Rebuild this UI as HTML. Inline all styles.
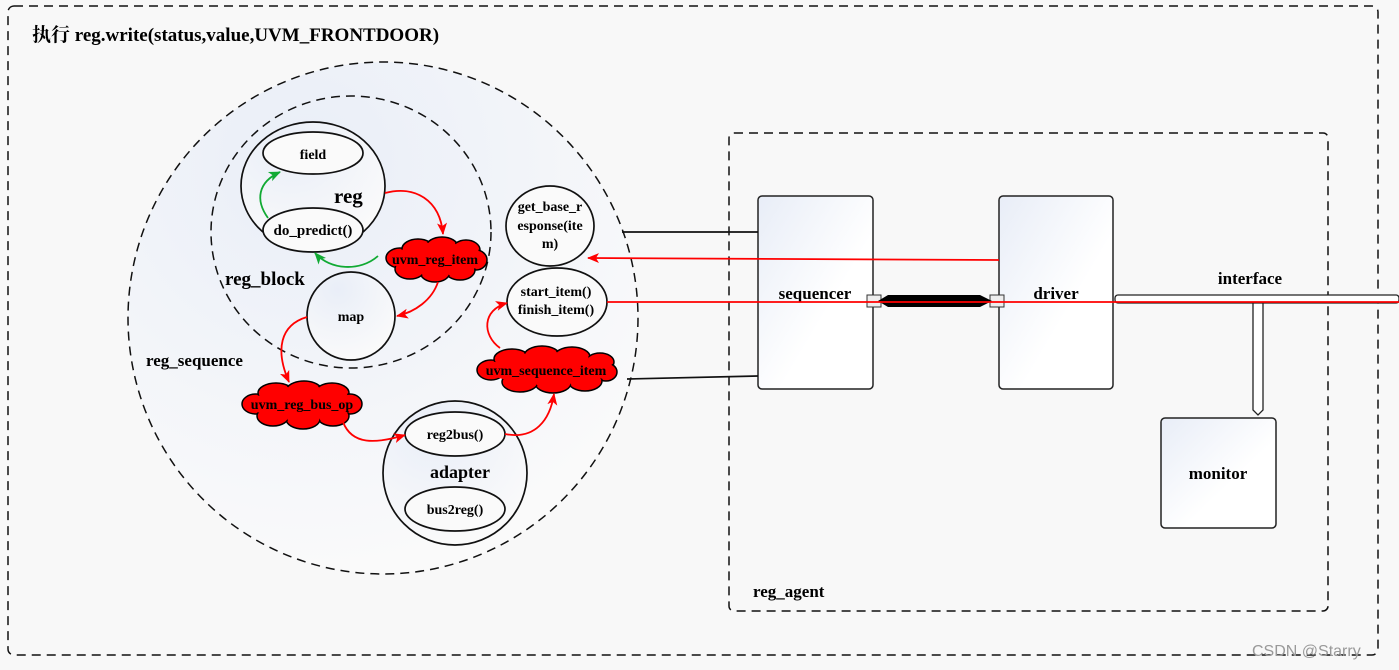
<!DOCTYPE html>
<html><head><meta charset="utf-8"><style>
html,body{margin:0;padding:0;background:#fff}
svg{display:block}
text{font-family:"Liberation Serif","Noto Serif CJK SC",serif;font-weight:bold;fill:#000}
</style></head><body>
<svg width="1399" height="670" viewBox="0 0 1399 670" xmlns="http://www.w3.org/2000/svg">
<defs>
<linearGradient id="g" x1="0" y1="0" x2="1" y2="1"><stop offset="0" stop-color="#e8edf7"/><stop offset="0.6" stop-color="#fff"/></linearGradient>
<radialGradient id="rg" cx="0.35" cy="0.2" r="0.8"><stop offset="0" stop-color="#e9eef8"/><stop offset="1" stop-color="#fafafa"/></radialGradient>
<marker id="ar" markerWidth="12" markerHeight="12" refX="11" refY="6" orient="auto" markerUnits="userSpaceOnUse"><path d="M0,1 L12,6 L0,11 L3,6z" fill="#f00"/></marker>
<marker id="ag" markerWidth="12" markerHeight="12" refX="11" refY="6" orient="auto" markerUnits="userSpaceOnUse"><path d="M0,1 L12,6 L0,11 L3,6z" fill="#1a3"/></marker>
</defs>
<rect width="1399" height="670" fill="#f8f8f8"/>
<rect x="8" y="6" width="1370" height="649" rx="6" fill="#f8f8f8" stroke="#111" stroke-width="1.5" stroke-dasharray="9,6"/>
<text x="32" y="41" font-size="19">执行 reg.write(status,value,UVM_FRONTDOOR)</text>

<rect x="729" y="133" width="599" height="478" rx="5" fill="none" stroke="#111" stroke-width="1.5" stroke-dasharray="9,6"/>
<text x="753" y="597" font-size="17">reg_agent</text>

<ellipse cx="383" cy="318" rx="255" ry="256" fill="url(#rg)" stroke="#111" stroke-width="1.5" stroke-dasharray="9,6"/>
<text x="146" y="366" font-size="17">reg_sequence</text>
<ellipse cx="351" cy="232" rx="140" ry="136" fill="none" stroke="#111" stroke-width="1.5" stroke-dasharray="9,6"/>
<text x="225" y="285" font-size="19">reg_block</text>

<ellipse cx="313" cy="186" rx="72" ry="64" fill="url(#rg)" stroke="#111" stroke-width="1.7"/>
<text x="334" y="203" font-size="21">reg</text>
<ellipse cx="313" cy="153" rx="50" ry="21" fill="#fafafa" stroke="#111" stroke-width="1.7"/>
<text x="313" y="159" font-size="14" text-anchor="middle">field</text>
<ellipse cx="313" cy="230" rx="50" ry="22" fill="#fafafa" stroke="#111" stroke-width="1.7"/>
<text x="313" y="235" font-size="15" text-anchor="middle">do_predict()</text>
<ellipse cx="351" cy="316" rx="44" ry="44" fill="url(#rg)" stroke="#111" stroke-width="1.7"/>
<text x="351" y="321" font-size="14" text-anchor="middle">map</text>

<ellipse cx="550" cy="226" rx="44" ry="40" fill="#fafafa" stroke="#111" stroke-width="1.7"/>
<text x="550" y="211" font-size="14" text-anchor="middle">get_base_r</text>
<text x="550" y="230" font-size="14" text-anchor="middle">esponse(ite</text>
<text x="550" y="248" font-size="14" text-anchor="middle">m)</text>
<ellipse cx="557" cy="302" rx="50" ry="34" fill="#fafafa" stroke="#111" stroke-width="1.7"/>
<text x="556" y="296" font-size="14" text-anchor="middle">start_item()</text>
<text x="556" y="314" font-size="14" text-anchor="middle">finish_item()</text>

<ellipse cx="455" cy="473" rx="72" ry="72" fill="url(#rg)" stroke="#111" stroke-width="1.7"/>
<text x="460" y="478" font-size="18" text-anchor="middle">adapter</text>
<ellipse cx="455" cy="434" rx="50" ry="22" fill="#fafafa" stroke="#111" stroke-width="1.7"/>
<text x="455" y="439" font-size="14" text-anchor="middle">reg2bus()</text>
<ellipse cx="455" cy="509" rx="50" ry="22" fill="#fafafa" stroke="#111" stroke-width="1.7"/>
<text x="455" y="514" font-size="14" text-anchor="middle">bus2reg()</text>

<!-- clouds -->
<g stroke="#000" stroke-width="1.5" fill="#f00">
<ellipse cx="400" cy="258" rx="14" ry="10"/><ellipse cx="418" cy="249" rx="16" ry="10"/><ellipse cx="442" cy="247" rx="16" ry="10"/><ellipse cx="466" cy="250" rx="14" ry="10"/><ellipse cx="476" cy="260" rx="11" ry="10"/><ellipse cx="460" cy="270" rx="15" ry="10"/><ellipse cx="435" cy="272" rx="15" ry="10"/><ellipse cx="410" cy="269" rx="15" ry="10"/>
<ellipse cx="256" cy="404" rx="14" ry="10"/><ellipse cx="276" cy="393" rx="18" ry="10"/><ellipse cx="304" cy="391" rx="18" ry="10"/><ellipse cx="332" cy="393" rx="17" ry="10"/><ellipse cx="350" cy="404" rx="12" ry="10"/><ellipse cx="333" cy="416" rx="16" ry="10"/><ellipse cx="303" cy="419" rx="17" ry="10"/><ellipse cx="273" cy="416" rx="16" ry="10"/>
<ellipse cx="491" cy="370" rx="14" ry="10"/><ellipse cx="512" cy="359" rx="18" ry="10"/><ellipse cx="542" cy="356" rx="18" ry="10"/><ellipse cx="572" cy="357" rx="18" ry="10"/><ellipse cx="600" cy="362" rx="14" ry="9"/><ellipse cx="606" cy="372" rx="11" ry="9"/><ellipse cx="585" cy="381" rx="17" ry="10"/><ellipse cx="553" cy="383" rx="18" ry="10"/><ellipse cx="520" cy="382" rx="18" ry="10"/>
</g>
<g fill="#f00">
<ellipse cx="438" cy="260" rx="42" ry="12"/>
<ellipse cx="303" cy="405" rx="52" ry="13"/>
<ellipse cx="548" cy="370" rx="62" ry="13"/>
<ellipse cx="400" cy="258" rx="12.5" ry="8.5"/><ellipse cx="418" cy="249" rx="14.5" ry="8.5"/><ellipse cx="442" cy="247" rx="14.5" ry="8.5"/><ellipse cx="466" cy="250" rx="12.5" ry="8.5"/><ellipse cx="476" cy="260" rx="9.5" ry="8.5"/><ellipse cx="460" cy="270" rx="13.5" ry="8.5"/><ellipse cx="435" cy="272" rx="13.5" ry="8.5"/><ellipse cx="410" cy="269" rx="13.5" ry="8.5"/>
<ellipse cx="256" cy="404" rx="12.5" ry="8.5"/><ellipse cx="276" cy="393" rx="16.5" ry="8.5"/><ellipse cx="304" cy="391" rx="16.5" ry="8.5"/><ellipse cx="332" cy="393" rx="15.5" ry="8.5"/><ellipse cx="350" cy="404" rx="10.5" ry="8.5"/><ellipse cx="333" cy="416" rx="14.5" ry="8.5"/><ellipse cx="303" cy="419" rx="15.5" ry="8.5"/><ellipse cx="273" cy="416" rx="14.5" ry="8.5"/>
<ellipse cx="491" cy="370" rx="12.5" ry="8.5"/><ellipse cx="512" cy="359" rx="16.5" ry="8.5"/><ellipse cx="542" cy="356" rx="16.5" ry="8.5"/><ellipse cx="572" cy="357" rx="16.5" ry="8.5"/><ellipse cx="600" cy="362" rx="12.5" ry="7.5"/><ellipse cx="606" cy="372" rx="9.5" ry="7.5"/><ellipse cx="585" cy="381" rx="15.5" ry="8.5"/><ellipse cx="553" cy="383" rx="16.5" ry="8.5"/><ellipse cx="520" cy="382" rx="16.5" ry="8.5"/>
</g>
<text x="435" y="264" font-size="14" text-anchor="middle">uvm_reg_item</text>
<text x="302" y="409" font-size="14" text-anchor="middle">uvm_reg_bus_op</text>
<text x="546" y="375" font-size="14" text-anchor="middle">uvm_sequence_item</text>

<!-- arrows inside -->
<g fill="none" stroke-width="1.8">
<path d="M268,218 C255,200 258,182 280,172" stroke="#1a3" marker-end="url(#ag)"/>
<path d="M378,256 C360,272 330,270 315,253" stroke="#1a3" marker-end="url(#ag)"/>
<path d="M385,193 C415,185 440,200 443,234" stroke="#f00" marker-end="url(#ar)"/>
<path d="M438,282 C432,300 415,312 397,316" stroke="#f00" marker-end="url(#ar)"/>
<path d="M307,317 C280,325 275,350 289,382" stroke="#f00" marker-end="url(#ar)"/>
<path d="M343,422 C352,445 375,444 405,435" stroke="#f00" marker-end="url(#ar)"/>
<path d="M505,434 C535,440 550,420 554,394" stroke="#f00" marker-end="url(#ar)"/>
<path d="M500,348 C482,335 482,310 507,303" stroke="#f00" marker-end="url(#ar)"/>
</g>

<!-- boxes -->
<rect x="758" y="196" width="115" height="193" rx="4" fill="url(#g)" stroke="#222" stroke-width="1.5"/>
<text x="815" y="299" font-size="17" text-anchor="middle">sequencer</text>
<rect x="999" y="196" width="114" height="193" rx="4" fill="url(#g)" stroke="#222" stroke-width="1.5"/>
<text x="1056" y="299" font-size="17" text-anchor="middle">driver</text>
<rect x="1161" y="418" width="115" height="110" rx="4" fill="url(#g)" stroke="#222" stroke-width="1.5"/>
<text x="1218" y="479" font-size="17" text-anchor="middle">monitor</text>

<line x1="622" y1="232" x2="758" y2="232" stroke="#111" stroke-width="1.7"/>
<line x1="627" y1="379" x2="758" y2="376" stroke="#111" stroke-width="1.7"/>

<!-- interface -->
<path d="M1253,303 V410 L1258,415 L1263,410 V303" fill="#fff" stroke="#222" stroke-width="1.3"/>
<rect x="1115" y="295" width="284" height="8" rx="3" fill="#fff" stroke="#222" stroke-width="1.3"/>
<text x="1250" y="284" font-size="17" text-anchor="middle">interface</text>

<!-- tlm arrow -->
<rect x="867" y="295" width="14" height="12" fill="#eee" stroke="#333"/>
<rect x="990" y="295" width="14" height="12" fill="#eee" stroke="#333"/>
<path d="M878,301 L888,295 L980,295 L992,301 L980,307 L888,307 Z" fill="#000"/>

<line x1="588" y1="258" x2="999" y2="260" stroke="#f00" stroke-width="1.8" marker-end="url(#ar)" transform="rotate(180 793.5 259)"/>
<line x1="607" y1="302" x2="1399" y2="302" stroke="#f00" stroke-width="1.8"/>

<text x="1252" y="656" font-size="16" style="font-family:'Liberation Sans',sans-serif;font-weight:normal;fill:#999">CSDN @Starry</text>
</svg>
</body></html>
